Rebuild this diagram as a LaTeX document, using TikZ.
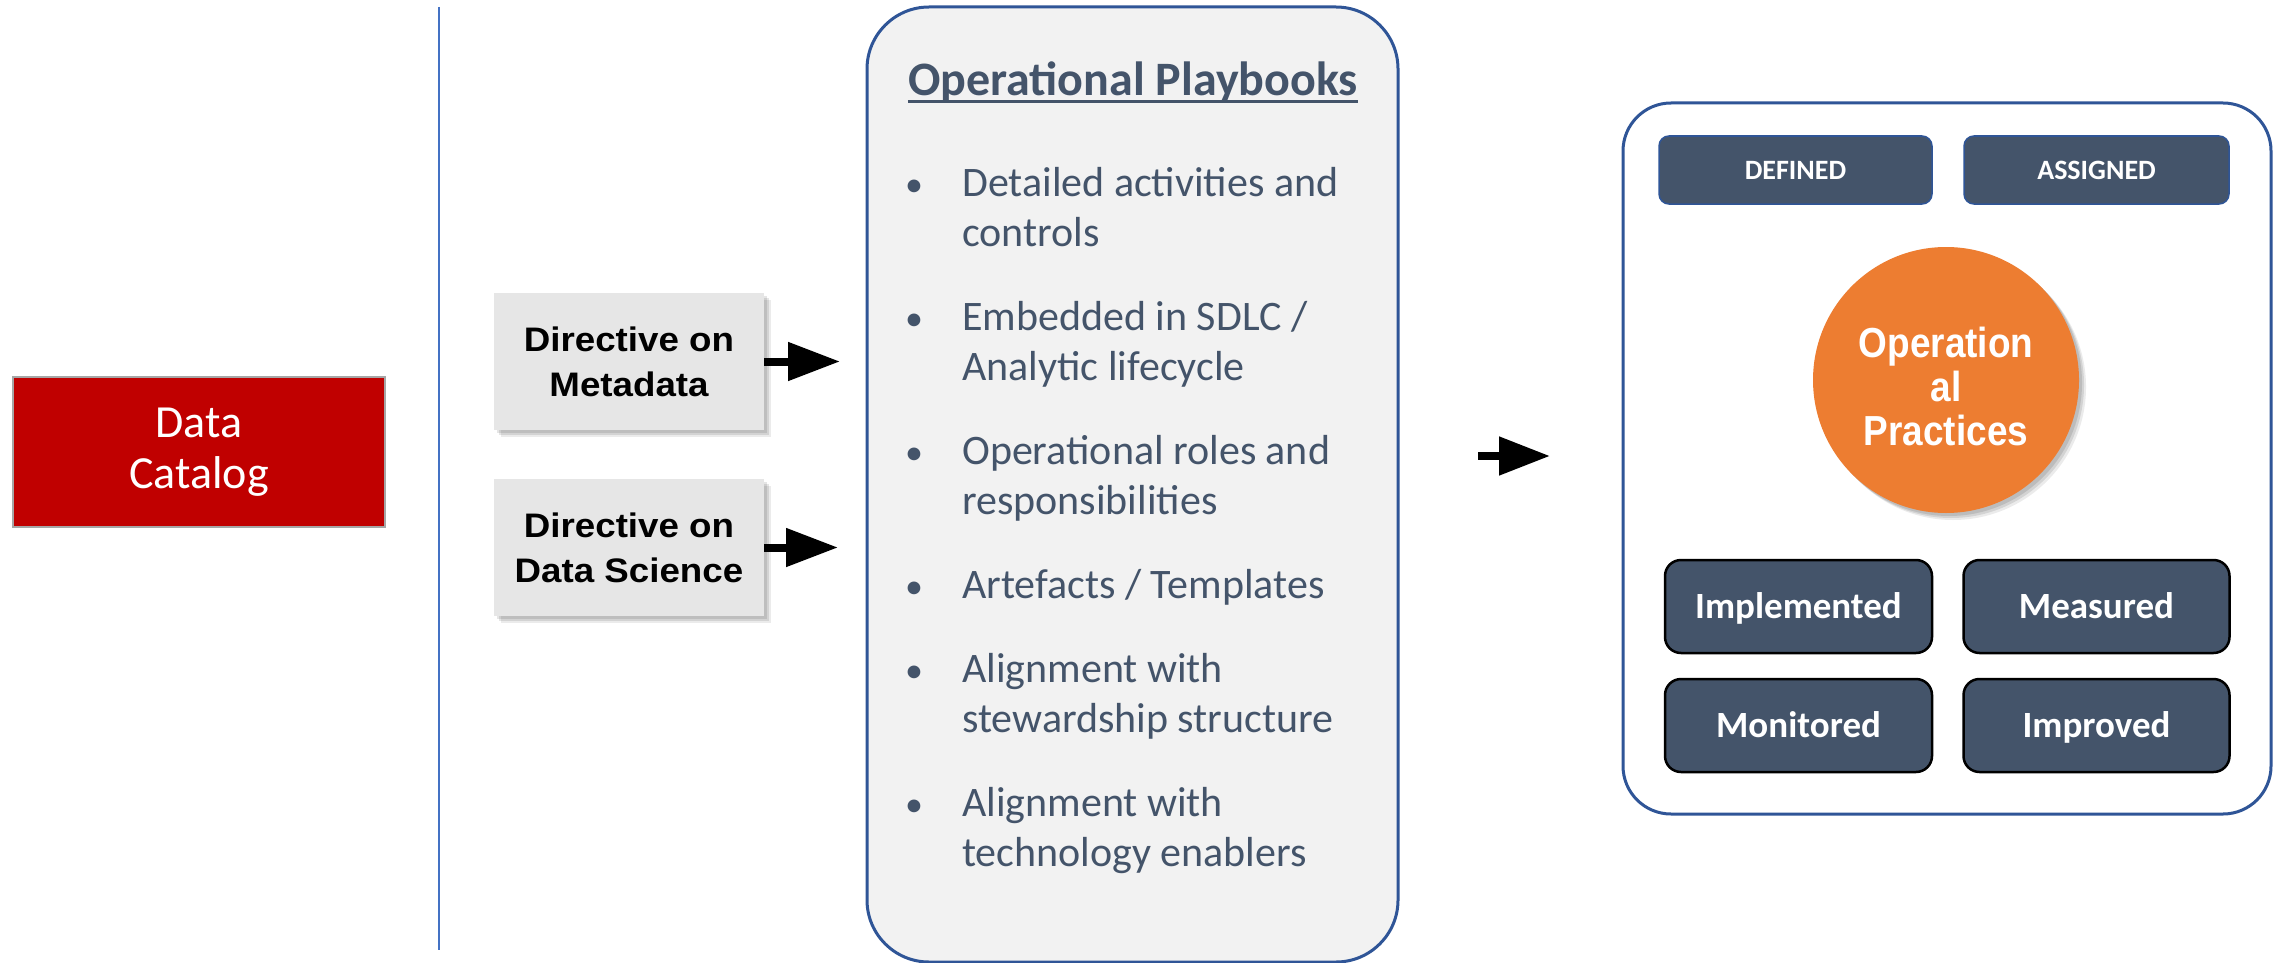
\documentclass[tikz,border=0pt]{standalone}
\usepackage{fontspec}
\usepackage{graphicx}
\setmainfont{Carlito}
\newfontfamily\arialfont{Liberation Sans}
\usetikzlibrary{arrows.meta,shadows}
\definecolor{catred}{HTML}{C00000}
\definecolor{catborder}{HTML}{A6A6A6}
\definecolor{divblue}{HTML}{4472C4}
\definecolor{dirgray}{HTML}{E6E6E6}
\definecolor{pbfill}{HTML}{F2F2F2}
\definecolor{pbborder}{HTML}{2F5597}
\definecolor{slate}{HTML}{44546A}
\definecolor{orangec}{HTML}{ED7D31}
\begin{document}
\begin{tikzpicture}[x=1pt,y=-1pt,
  softshadow/.style={
    preaction={fill=black, opacity=0.10, transform canvas={xshift=3pt, yshift=-3pt}},
    preaction={fill=black, opacity=0.10, transform canvas={xshift=5pt, yshift=-5pt}},
    preaction={fill=black, opacity=0.08, transform canvas={xshift=7pt, yshift=-7pt}}},
  catbox/.style={draw=catborder, line width=2.5pt, fill=catred, minimum width=372pt, minimum height=150pt,
    text=white, font=\fontsize{46}{51}\selectfont, align=center, inner sep=0pt},
  divider/.style={draw=divblue, line width=2pt},
  dirbox/.style={fill=dirgray, minimum width=270pt, minimum height=137pt, inner sep=0pt, align=center,
    font=\arialfont\bfseries\fontsize{34}{45}\selectfont, text=black, softshadow},
  bigarrow/.style={line width=8pt, -{Triangle[length=52pt,width=37pt]}},
  pbbox/.style={draw=pbborder, line width=3pt, fill=pbfill, rounded corners=62pt, inner sep=0pt},
  pbtitle/.style={inner sep=0pt, text=slate, font=\bfseries\fontsize{48}{56}\selectfont},
  bul/.style={inner sep=0pt, text=slate, font=\fontsize{36}{50}\selectfont},
  btxt/.style={inner sep=0pt, text=slate, font=\fontsize{42}{50}\selectfont},
  rbox/.style={draw=pbborder, line width=3pt, fill=white, rounded corners=48pt, inner sep=0pt},
  tagbox/.style={draw=pbborder, line width=1.5pt, fill=slate, rounded corners=10pt, minimum height=68pt,
    inner sep=0pt, text height=18pt, text depth=0pt, text=white, font=\bfseries\fontsize{28}{32}\selectfont},
  stagebox/.style={draw=black, line width=2.5pt, fill=slate, rounded corners=16pt, minimum height=93pt,
    inner sep=0pt, text height=26pt, text depth=2pt, text=white, font=\bfseries\fontsize{37}{42}\selectfont},
  circ/.style={circle, fill=orangec, minimum size=266pt, inner sep=0pt, softshadow}
]
\useasboundingbox (0,0) rectangle (2274,963);

% left
\node[catbox] (cat) at (199,452) {Data\\Catalog};
\coordinate (vtop) at (439,7);
\coordinate (vbot) at (439,950);
\draw[divider] (vtop) -- (vbot);

% directives
\node[dirbox] (dm) at (629,361.5) {\scalebox{1.08}[1]{Directive on}\\\scalebox{1.08}[1]{Metadata}};
\node[dirbox] (ds) at (629,547.5) {\scalebox{1.08}[1]{Directive on}\\\scalebox{1.08}[1]{Data Science}};
\coordinate (dmtip) at (840,362);
\coordinate (dstip) at (838,547);
\draw[bigarrow] (dm.east) -- (dm.east -| dmtip);
\draw[bigarrow] (ds.east) -- (ds.east -| dstip);

% playbook box
\node[pbbox, minimum width=531pt, minimum height=955pt] (pb) at (1132.5,484.5) {};
\node[pbtitle, anchor=base] (pbt) at (1133,96) {Operational Playbooks};
\draw[slate, line width=3pt] ([yshift=-6pt]pbt.base west) -- ([yshift=-6pt]pbt.base east);

\node[bul, anchor=base] (b1) at (914,196) {•};
\node[btxt, anchor=base west] (t1a) at (962,196) {Detailed activities and};
\node[btxt, anchor=base west] (t1b) at (962,246) {controls};
\node[bul, anchor=base] (b2) at (914,330) {•};
\node[btxt, anchor=base west] (t2a) at (962,330) {Embedded in SDLC /};
\node[btxt, anchor=base west] (t2b) at (962,380) {Analytic lifecycle};
\node[bul, anchor=base] (b3) at (914,464) {•};
\node[btxt, anchor=base west] (t3a) at (962,464) {Operational roles and};
\node[btxt, anchor=base west] (t3b) at (962,514) {responsibilities};
\node[bul, anchor=base] (b4) at (914,598) {•};
\node[btxt, anchor=base west] (t4a) at (962,598) {Artefacts / Templates};
\node[bul, anchor=base] (b5) at (914,682) {•};
\node[btxt, anchor=base west] (t5a) at (962,682) {Alignment with};
\node[btxt, anchor=base west] (t5b) at (962,732) {stewardship structure};
\node[bul, anchor=base] (b6) at (914,816) {•};
\node[btxt, anchor=base west] (t6a) at (962,816) {Alignment with};
\node[btxt, anchor=base west] (t6b) at (962,866) {technology enablers};

% middle arrow
\coordinate (ma) at (1478,456);
\coordinate (mb) at (1550,456);
\draw[line width=8pt, -{Triangle[length=51pt,width=37pt]}] (ma) -- (mb);

% right box
\node[rbox, minimum width=648pt, minimum height=711pt] (rb) at (1947,458.5) {};
\node[tagbox, minimum width=273pt] (def) at (1795.5,170) {DEFINED};
\node[tagbox, minimum width=265pt] (asg) at (2096.5,170) {ASSIGNED};
\node[circ] (op) at (1946,380) {};
\node[align=center, inner sep=0pt, text=white, font=\arialfont\bfseries\fontsize{42}{44}\selectfont]
  (optxt) at ([yshift=-6pt]op.center) {\scalebox{0.88}[1]{Operation}\\\scalebox{0.88}[1]{al}\\\scalebox{0.88}[1]{Practices}};
\node[stagebox, minimum width=267pt] (imp) at (1798.5,606.5) {Implemented};
\node[stagebox, minimum width=266pt] (mea) at (2096.5,606.5) {Measured};
\node[stagebox, minimum width=267pt] (mon) at (1798.5,725.5) {Monitored};
\node[stagebox, minimum width=266pt] (imr) at (2096.5,725.5) {Improved};
\end{tikzpicture}
\end{document}
